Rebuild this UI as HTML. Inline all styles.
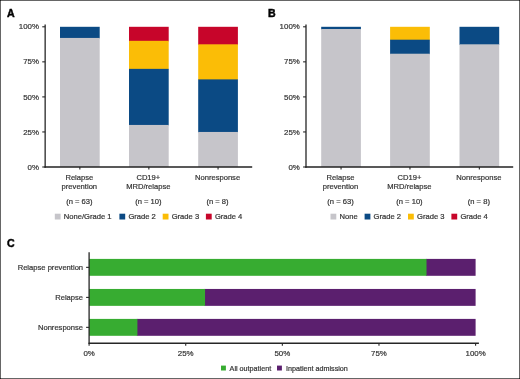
<!DOCTYPE html>
<html><head><meta charset="utf-8"><style>
html,body{margin:0;padding:0;background:#fff;}
svg{display:block;font-family:"Liberation Sans",sans-serif;will-change:transform;}
</style></head><body>
<svg width="520" height="379" viewBox="0 0 520 379">
<rect x="0" y="0" width="520" height="379" fill="#fff"/>
<text x="7.00" y="16.60" text-anchor="start" font-size="10.6" fill="#000" stroke="#000" stroke-width="0.45" font-weight="bold">A</text>
<rect x="60.00" y="26.80" width="39.70" height="11.73" fill="#0b4a84"/>
<rect x="60.00" y="37.93" width="39.70" height="129.07" fill="#c6c5ca"/>
<rect x="129.00" y="26.80" width="39.70" height="14.62" fill="#c7052a"/>
<rect x="129.00" y="40.82" width="39.70" height="28.64" fill="#fbbd06"/>
<rect x="129.00" y="68.86" width="39.70" height="56.68" fill="#0b4a84"/>
<rect x="129.00" y="124.94" width="39.70" height="42.06" fill="#c6c5ca"/>
<rect x="198.20" y="26.80" width="39.70" height="18.13" fill="#c7052a"/>
<rect x="198.20" y="44.33" width="39.70" height="35.65" fill="#fbbd06"/>
<rect x="198.20" y="79.38" width="39.70" height="53.17" fill="#0b4a84"/>
<rect x="198.20" y="131.95" width="39.70" height="35.05" fill="#c6c5ca"/>
<line x1="45.15" y1="24.40" x2="45.15" y2="167.65" stroke="#262626" stroke-width="1.3"/>
<line x1="44.50" y1="167.00" x2="252.20" y2="167.00" stroke="#222" stroke-width="1.5"/>
<line x1="42.25" y1="26.80" x2="45.15" y2="26.80" stroke="#262626" stroke-width="1.1"/>
<text x="38.95" y="29.40" text-anchor="end" font-size="7.9" fill="#333333" stroke="#333333" stroke-width="0.2">100%</text>
<line x1="42.25" y1="61.85" x2="45.15" y2="61.85" stroke="#262626" stroke-width="1.1"/>
<text x="38.95" y="64.45" text-anchor="end" font-size="7.9" fill="#333333" stroke="#333333" stroke-width="0.2">75%</text>
<line x1="42.25" y1="96.90" x2="45.15" y2="96.90" stroke="#262626" stroke-width="1.1"/>
<text x="38.95" y="99.50" text-anchor="end" font-size="7.9" fill="#333333" stroke="#333333" stroke-width="0.2">50%</text>
<line x1="42.25" y1="131.95" x2="45.15" y2="131.95" stroke="#262626" stroke-width="1.1"/>
<text x="38.95" y="134.55" text-anchor="end" font-size="7.9" fill="#333333" stroke="#333333" stroke-width="0.2">25%</text>
<line x1="42.25" y1="167.00" x2="45.15" y2="167.00" stroke="#262626" stroke-width="1.1"/>
<text x="38.95" y="169.60" text-anchor="end" font-size="7.9" fill="#333333" stroke="#333333" stroke-width="0.2">0%</text>
<line x1="79.85" y1="167.00" x2="79.85" y2="169.60" stroke="#262626" stroke-width="1.1"/>
<line x1="148.85" y1="167.00" x2="148.85" y2="169.60" stroke="#262626" stroke-width="1.1"/>
<line x1="218.05" y1="167.00" x2="218.05" y2="169.60" stroke="#262626" stroke-width="1.1"/>
<text x="79.35" y="179.90" text-anchor="middle" font-size="7.6" fill="#333333" stroke="#333333" stroke-width="0.2">Relapse</text>
<text x="79.35" y="189.40" text-anchor="middle" font-size="7.6" fill="#333333" stroke="#333333" stroke-width="0.2">prevention</text>
<text x="79.35" y="204.20" text-anchor="middle" font-size="7.6" fill="#333333" stroke="#333333" stroke-width="0.2">(n = 63)</text>
<text x="148.35" y="179.90" text-anchor="middle" font-size="7.6" fill="#333333" stroke="#333333" stroke-width="0.2">CD19+</text>
<text x="148.35" y="189.40" text-anchor="middle" font-size="7.6" fill="#333333" stroke="#333333" stroke-width="0.2">MRD/relapse</text>
<text x="148.35" y="204.20" text-anchor="middle" font-size="7.6" fill="#333333" stroke="#333333" stroke-width="0.2">(n = 10)</text>
<text x="217.55" y="179.90" text-anchor="middle" font-size="7.6" fill="#333333" stroke="#333333" stroke-width="0.2">Nonresponse</text>
<text x="217.55" y="204.20" text-anchor="middle" font-size="7.6" fill="#333333" stroke="#333333" stroke-width="0.2">(n = 8)</text>
<rect x="54.80" y="213.70" width="5.80" height="5.80" fill="#c6c5ca"/>
<text x="63.80" y="219.40" text-anchor="start" font-size="7.6" fill="#333333" stroke="#333333" stroke-width="0.2">None/Grade 1</text>
<rect x="119.40" y="213.70" width="5.80" height="5.80" fill="#0b4a84"/>
<text x="128.40" y="219.40" text-anchor="start" font-size="7.6" fill="#333333" stroke="#333333" stroke-width="0.2">Grade 2</text>
<rect x="162.70" y="213.70" width="5.80" height="5.80" fill="#fbbd06"/>
<text x="171.70" y="219.40" text-anchor="start" font-size="7.6" fill="#333333" stroke="#333333" stroke-width="0.2">Grade 3</text>
<rect x="205.90" y="213.70" width="5.80" height="5.80" fill="#c7052a"/>
<text x="214.90" y="219.40" text-anchor="start" font-size="7.6" fill="#333333" stroke="#333333" stroke-width="0.2">Grade 4</text>
<text x="268.00" y="16.60" text-anchor="start" font-size="10.6" fill="#000" stroke="#000" stroke-width="0.45" font-weight="bold">B</text>
<rect x="321.20" y="26.80" width="39.70" height="2.83" fill="#0b4a84"/>
<rect x="321.20" y="29.03" width="39.70" height="137.97" fill="#c6c5ca"/>
<rect x="390.10" y="26.80" width="39.70" height="13.50" fill="#fbbd06"/>
<rect x="390.10" y="39.70" width="39.70" height="14.62" fill="#0b4a84"/>
<rect x="390.10" y="53.72" width="39.70" height="113.28" fill="#c6c5ca"/>
<rect x="459.50" y="26.80" width="39.70" height="18.13" fill="#0b4a84"/>
<rect x="459.50" y="44.33" width="39.70" height="122.67" fill="#c6c5ca"/>
<line x1="306.00" y1="24.40" x2="306.00" y2="167.65" stroke="#262626" stroke-width="1.3"/>
<line x1="305.35" y1="167.00" x2="513.20" y2="167.00" stroke="#222" stroke-width="1.5"/>
<line x1="303.10" y1="26.80" x2="306.00" y2="26.80" stroke="#262626" stroke-width="1.1"/>
<text x="299.80" y="29.40" text-anchor="end" font-size="7.9" fill="#333333" stroke="#333333" stroke-width="0.2">100%</text>
<line x1="303.10" y1="61.85" x2="306.00" y2="61.85" stroke="#262626" stroke-width="1.1"/>
<text x="299.80" y="64.45" text-anchor="end" font-size="7.9" fill="#333333" stroke="#333333" stroke-width="0.2">75%</text>
<line x1="303.10" y1="96.90" x2="306.00" y2="96.90" stroke="#262626" stroke-width="1.1"/>
<text x="299.80" y="99.50" text-anchor="end" font-size="7.9" fill="#333333" stroke="#333333" stroke-width="0.2">50%</text>
<line x1="303.10" y1="131.95" x2="306.00" y2="131.95" stroke="#262626" stroke-width="1.1"/>
<text x="299.80" y="134.55" text-anchor="end" font-size="7.9" fill="#333333" stroke="#333333" stroke-width="0.2">25%</text>
<line x1="303.10" y1="167.00" x2="306.00" y2="167.00" stroke="#262626" stroke-width="1.1"/>
<text x="299.80" y="169.60" text-anchor="end" font-size="7.9" fill="#333333" stroke="#333333" stroke-width="0.2">0%</text>
<line x1="341.05" y1="167.00" x2="341.05" y2="169.60" stroke="#262626" stroke-width="1.1"/>
<line x1="409.95" y1="167.00" x2="409.95" y2="169.60" stroke="#262626" stroke-width="1.1"/>
<line x1="479.35" y1="167.00" x2="479.35" y2="169.60" stroke="#262626" stroke-width="1.1"/>
<text x="340.55" y="179.90" text-anchor="middle" font-size="7.6" fill="#333333" stroke="#333333" stroke-width="0.2">Relapse</text>
<text x="340.55" y="189.40" text-anchor="middle" font-size="7.6" fill="#333333" stroke="#333333" stroke-width="0.2">prevention</text>
<text x="340.55" y="204.20" text-anchor="middle" font-size="7.6" fill="#333333" stroke="#333333" stroke-width="0.2">(n = 63)</text>
<text x="409.45" y="179.90" text-anchor="middle" font-size="7.6" fill="#333333" stroke="#333333" stroke-width="0.2">CD19+</text>
<text x="409.45" y="189.40" text-anchor="middle" font-size="7.6" fill="#333333" stroke="#333333" stroke-width="0.2">MRD/relapse</text>
<text x="409.45" y="204.20" text-anchor="middle" font-size="7.6" fill="#333333" stroke="#333333" stroke-width="0.2">(n = 10)</text>
<text x="478.85" y="179.90" text-anchor="middle" font-size="7.6" fill="#333333" stroke="#333333" stroke-width="0.2">Nonresponse</text>
<text x="478.85" y="204.20" text-anchor="middle" font-size="7.6" fill="#333333" stroke="#333333" stroke-width="0.2">(n = 8)</text>
<rect x="330.50" y="213.70" width="5.80" height="5.80" fill="#c6c5ca"/>
<text x="339.50" y="219.40" text-anchor="start" font-size="7.6" fill="#333333" stroke="#333333" stroke-width="0.2">None</text>
<rect x="364.60" y="213.70" width="5.80" height="5.80" fill="#0b4a84"/>
<text x="373.60" y="219.40" text-anchor="start" font-size="7.6" fill="#333333" stroke="#333333" stroke-width="0.2">Grade 2</text>
<rect x="408.00" y="213.70" width="5.80" height="5.80" fill="#fbbd06"/>
<text x="417.00" y="219.40" text-anchor="start" font-size="7.6" fill="#333333" stroke="#333333" stroke-width="0.2">Grade 3</text>
<rect x="451.40" y="213.70" width="5.80" height="5.80" fill="#c7052a"/>
<text x="460.40" y="219.40" text-anchor="start" font-size="7.6" fill="#333333" stroke="#333333" stroke-width="0.2">Grade 4</text>
<text x="7.00" y="246.50" text-anchor="start" font-size="10.6" fill="#000" stroke="#000" stroke-width="0.45" font-weight="bold">C</text>
<rect x="425.92" y="258.90" width="49.68" height="16.90" fill="#5b1f6e"/>
<rect x="89.10" y="258.90" width="337.42" height="16.90" fill="#37ac31"/>
<line x1="86.10" y1="267.35" x2="89.10" y2="267.35" stroke="#262626" stroke-width="1.1"/>
<text x="83.10" y="269.95" text-anchor="end" font-size="7.6" fill="#333333" stroke="#333333" stroke-width="0.2">Relapse prevention</text>
<rect x="204.45" y="288.95" width="271.15" height="16.90" fill="#5b1f6e"/>
<rect x="89.10" y="288.95" width="115.95" height="16.90" fill="#37ac31"/>
<line x1="86.10" y1="297.40" x2="89.10" y2="297.40" stroke="#262626" stroke-width="1.1"/>
<text x="83.10" y="300.00" text-anchor="end" font-size="7.6" fill="#333333" stroke="#333333" stroke-width="0.2">Relapse</text>
<rect x="136.81" y="318.90" width="338.79" height="16.90" fill="#5b1f6e"/>
<rect x="89.10" y="318.90" width="48.31" height="16.90" fill="#37ac31"/>
<line x1="86.10" y1="327.35" x2="89.10" y2="327.35" stroke="#262626" stroke-width="1.1"/>
<text x="83.10" y="329.95" text-anchor="end" font-size="7.6" fill="#333333" stroke="#333333" stroke-width="0.2">Nonresponse</text>
<line x1="89.10" y1="252.20" x2="89.10" y2="344.00" stroke="#262626" stroke-width="1.3"/>
<line x1="88.60" y1="343.25" x2="478.90" y2="343.25" stroke="#262626" stroke-width="1.3"/>
<line x1="89.10" y1="343.40" x2="89.10" y2="345.70" stroke="#262626" stroke-width="1.1"/>
<text x="89.10" y="356.40" text-anchor="middle" font-size="7.9" fill="#333333" stroke="#333333" stroke-width="0.2">0%</text>
<line x1="185.72" y1="343.40" x2="185.72" y2="345.70" stroke="#262626" stroke-width="1.1"/>
<text x="185.72" y="356.40" text-anchor="middle" font-size="7.9" fill="#333333" stroke="#333333" stroke-width="0.2">25%</text>
<line x1="282.35" y1="343.40" x2="282.35" y2="345.70" stroke="#262626" stroke-width="1.1"/>
<text x="282.35" y="356.40" text-anchor="middle" font-size="7.9" fill="#333333" stroke="#333333" stroke-width="0.2">50%</text>
<line x1="378.98" y1="343.40" x2="378.98" y2="345.70" stroke="#262626" stroke-width="1.1"/>
<text x="378.98" y="356.40" text-anchor="middle" font-size="7.9" fill="#333333" stroke="#333333" stroke-width="0.2">75%</text>
<line x1="475.60" y1="343.40" x2="475.60" y2="345.70" stroke="#262626" stroke-width="1.1"/>
<text x="475.60" y="356.40" text-anchor="middle" font-size="7.9" fill="#333333" stroke="#333333" stroke-width="0.2">100%</text>
<rect x="221.00" y="365.60" width="4.90" height="4.90" fill="#37ac31"/>
<text x="229.60" y="370.60" text-anchor="start" font-size="7.2" fill="#333333" stroke="#333333" stroke-width="0.2">All outpatient</text>
<rect x="277.00" y="365.60" width="4.90" height="4.90" fill="#5b1f6e"/>
<text x="285.90" y="370.60" text-anchor="start" font-size="7.2" fill="#333333" stroke="#333333" stroke-width="0.2">Inpatient admission</text>
<rect x="0.5" y="0.5" width="519" height="378" fill="none" stroke="#666" stroke-width="1"/>
<rect x="0" y="0" width="1" height="1" fill="#222"/><rect x="519" y="0" width="1" height="1" fill="#222"/><rect x="0" y="378" width="1" height="1" fill="#222"/><rect x="519" y="378" width="1" height="1" fill="#222"/>
</svg>
</body></html>
